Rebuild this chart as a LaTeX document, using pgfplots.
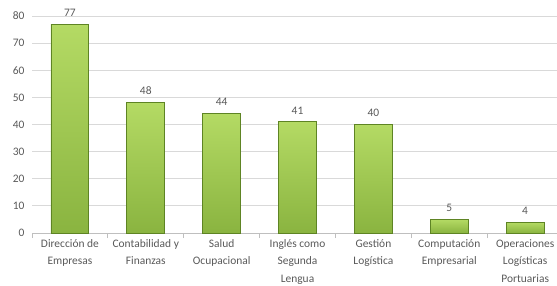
\documentclass[border=0pt]{standalone}
\usepackage{pgfplots}
\pgfplotsset{compat=1.18}
\usepackage{fontspec}
\setmainfont{Carlito}
\definecolor{txt}{HTML}{595959}
\definecolor{gridc}{HTML}{D9D9D9}
\definecolor{axisc}{HTML}{BFBFBF}
\definecolor{bartop}{HTML}{B4DA64}
\definecolor{barbot}{HTML}{8AB440}
\definecolor{barline}{HTML}{5E8424}
\pgfplotsset{
  mybar/.style={ybar, bar width=0.5, bar shift=0pt, draw=barline, line width=0.9pt,
    shading=axis, top color=bartop, bottom color=barbot,
    nodes near coords,
    every node near coord/.append style={font=\fontsize{11.5}{14}\selectfont, text=txt, yshift=4bp}},
}
\begin{document}
\begin{tikzpicture}
\useasboundingbox (-32bp,-53bp) rectangle (525bp,233bp);
\begin{axis}[
  scale only axis,
  width=525bp, height=217bp,
  xmin=-0.5, xmax=6.42,
  ymin=0, ymax=80,
  ytick={0,10,...,80},
  xtick={-0.5,0.5,...,6.5},
  xticklabels={},
  extra x ticks={0,1,2,3,4,5,6},
  extra x tick labels={{Dirección de\\Empresas},{Contabilidad y\\Finanzas},{Salud\\Ocupacional},{Inglés como\\Segunda\\Lengua},{Gestión\\Logística},{Computación\\Empresarial},{Operaciones\\Logísticas\\Portuarias}},
  extra x tick style={major tick length=0pt, xmajorgrids=false, tick style={draw=none},
     xticklabel style={align=center, yshift=-3bp, font=\fontsize{11.5}{17.5}\selectfont, text=txt}},
  major tick length=5bp,
  xtick align=outside,
  x tick style={draw=axisc, line width=0.8pt},
  ymajorgrids,
  grid style={draw=gridc, line width=0.8pt},
  axis x line*=bottom,
  axis y line*=left,
  x axis line style={draw=axisc, line width=0.8pt, -},
  y axis line style={draw=none},
  y tick style={draw=none},
  tick label style={font=\fontsize{11.5}{14}\selectfont, text=txt},
  yticklabel style={xshift=-4bp},
  /pgf/number format/assume math mode=true,
  clip=false,
]
\addplot[mybar] coordinates {(0,77)};
\addplot[mybar] coordinates {(1,48)};
\addplot[mybar] coordinates {(2,44)};
\addplot[mybar] coordinates {(3,41)};
\addplot[mybar] coordinates {(4,40)};
\addplot[mybar] coordinates {(5,5)};
\addplot[mybar] coordinates {(6,4)};
\end{axis}
\end{tikzpicture}
\end{document}
